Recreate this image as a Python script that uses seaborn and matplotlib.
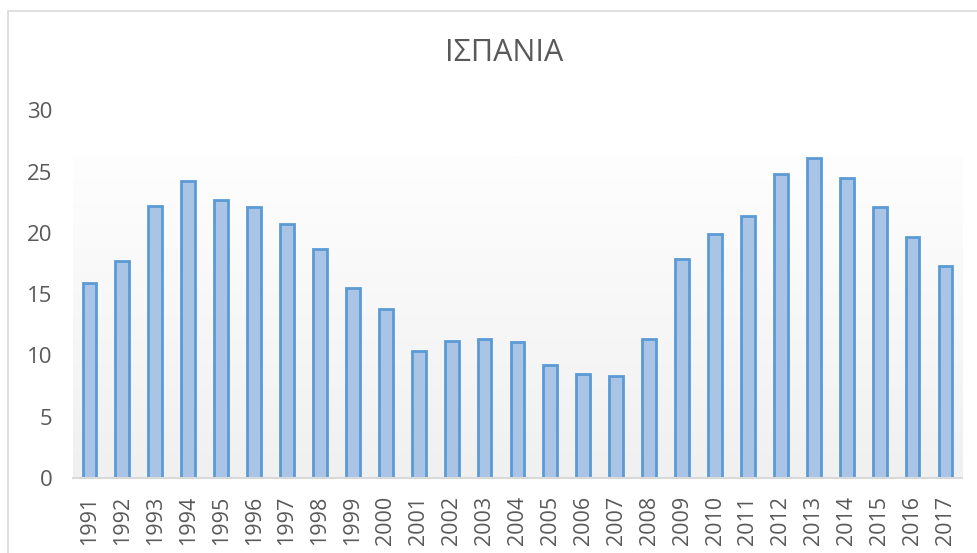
import numpy as np
import pandas as pd
import seaborn as sns
import matplotlib.pyplot as plt
from matplotlib.colors import LinearSegmentedColormap
from matplotlib.patches import Rectangle

years = [str(y) for y in range(1991, 2018)]
values = [15.9, 17.7, 22.2, 24.2, 22.7, 22.1, 20.7, 18.7, 15.5, 13.8,
          10.4, 11.2, 11.3, 11.1, 9.2, 8.5, 8.3, 11.3, 17.9, 19.9,
          21.4, 24.8, 26.1, 24.5, 22.1, 19.7, 17.3]
title = "ΙΣΠΑΝΙΑ"
yticks = [0, 5, 10, 15, 20, 25, 30]

sns.set_style("white")
plt.rcParams["font.family"] = ["Open Sans", "DejaVu Sans"]

df = pd.DataFrame({"year": years, "value": values})

fig = plt.figure(figsize=(9.78, 5.53), dpi=100)
ax = fig.add_axes([0.0746, 0.1356, 0.909, 0.665])

# soft gradient behind the bars (Excel plot area style)
grad = np.linspace(0, 1, 256).reshape(-1, 1)
bg = LinearSegmentedColormap.from_list("bg", ["#f0f0f0", "#fefefe"])
ax.imshow(grad, extent=(-0.5, 26.5, 0, 26.2), aspect="auto", origin="lower",
          cmap=bg, zorder=0)

sns.barplot(data=df, x="year", y="value", color="#aac4e6", edgecolor="#5b9bd5",
            linewidth=2, width=0.42, saturation=1, ax=ax, zorder=2)

ax.set_xlim(-0.5, 26.5)
ax.set_ylim(0, 30)
ax.set_yticks(yticks)
ax.set_xlabel("")
ax.set_ylabel("")
for s in ["top", "right", "left"]:
    ax.spines[s].set_visible(False)
ax.spines["bottom"].set_color("#d9d9d9")
ax.spines["bottom"].set_linewidth(1.5)
ax.tick_params(axis="x", rotation=90, labelsize=15.5, colors="#595959", length=0, pad=13)
ax.tick_params(axis="y", labelsize=16, colors="#595959", length=0, pad=15)
ax.set_facecolor("none")

fig.text(0.515, 0.905, title, ha="center", va="center", fontsize=22, color="#595959")

fig.patches.append(Rectangle((8 / 978, -0.1), 1.2, 1 - 11 / 553 + 0.1,
                             transform=fig.transFigure, fill=False,
                             edgecolor="#d9d9d9", linewidth=1.2))

fig.savefig("out.png", dpi=100)
